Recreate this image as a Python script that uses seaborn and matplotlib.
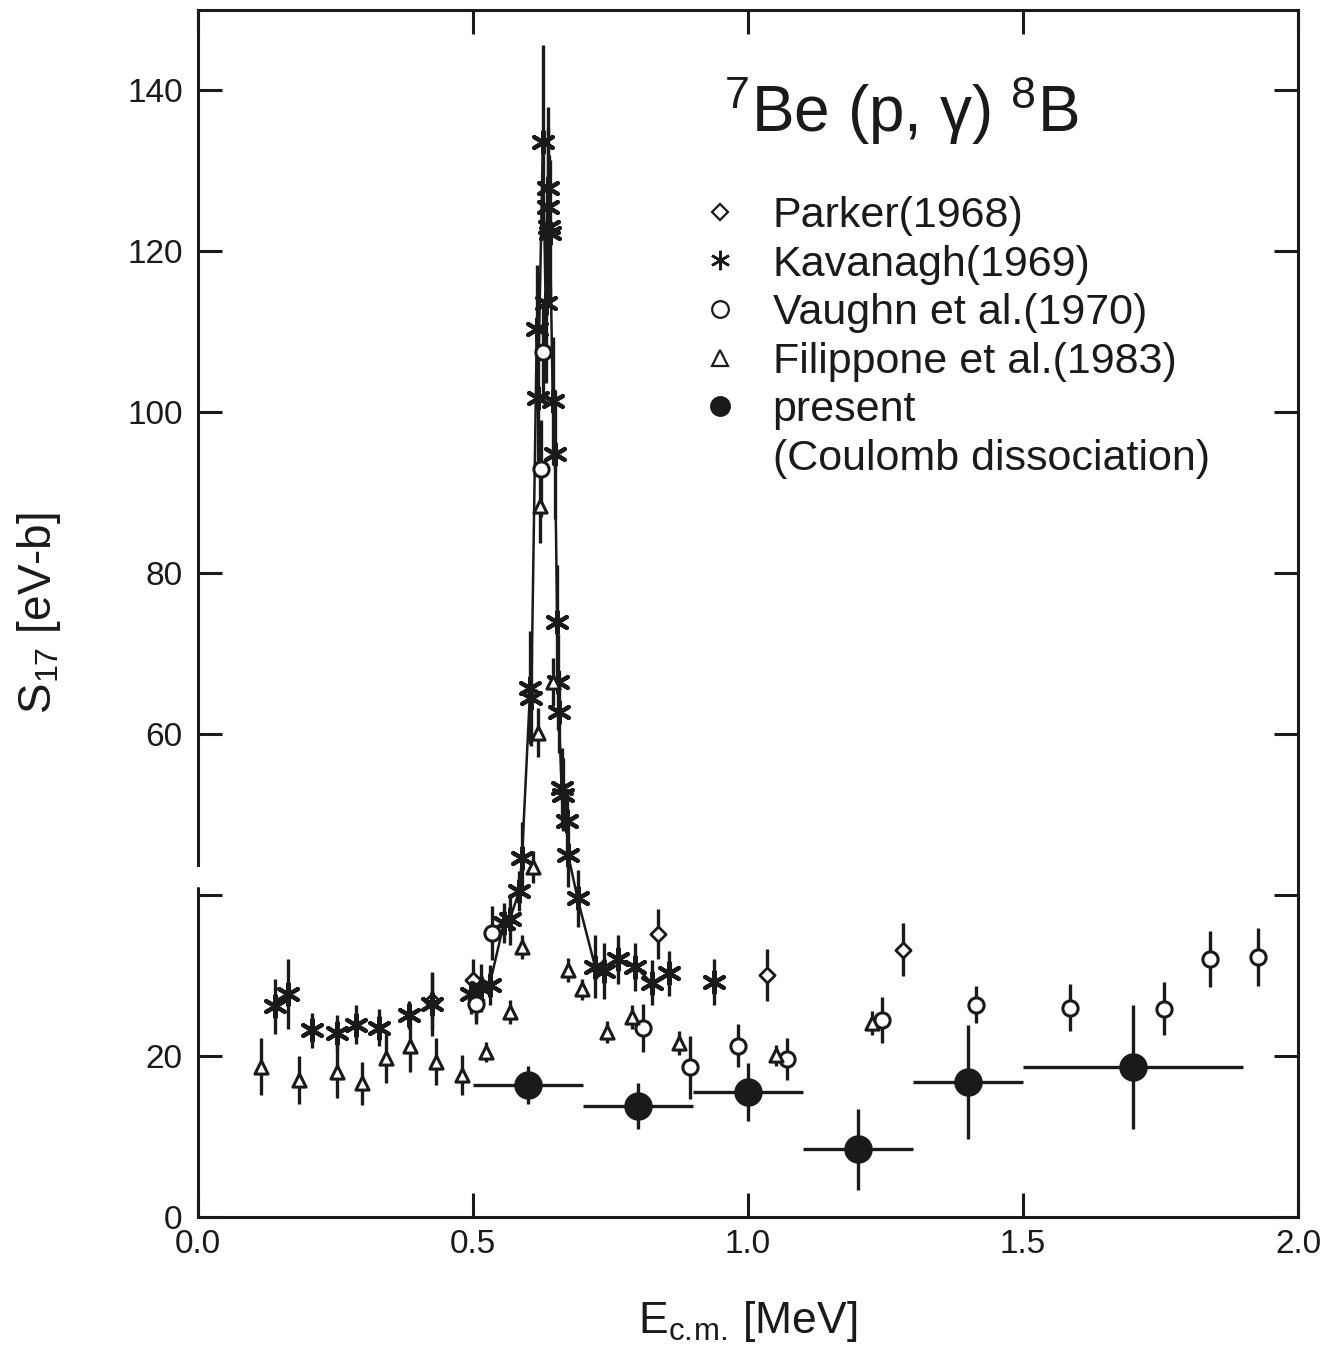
import numpy as np
import pandas as pd
import seaborn as sns
import matplotlib.pyplot as plt
from matplotlib.lines import Line2D

# Parker (1968) - open diamonds
parker_e = [0.425, 0.500, 0.505, 0.836, 1.035, 1.282]
parker_s = [26.8, 29.5, 27.0, 35.2, 30.1, 33.2]
parker_err = [3.5, 2.5, 2.5, 3.1, 3.2, 3.3]

# Kavanagh (1969) - asterisks
kav_e = [0.140, 0.164, 0.207, 0.253, 0.287, 0.329, 0.384, 0.425,
         0.496, 0.515, 0.530, 0.556, 0.567, 0.584, 0.589, 0.604, 0.606,
         0.616, 0.618, 0.627, 0.632, 0.636, 0.637, 0.638, 0.640, 0.645,
         0.649, 0.653, 0.655, 0.656, 0.661, 0.664, 0.670, 0.673, 0.690,
         0.722, 0.738, 0.764, 0.795, 0.825, 0.856, 0.938]
kav_s = [26.2, 27.7, 23.2, 22.9, 23.9, 23.5, 25.1, 26.5,
         27.7, 28.5, 28.8, 36.5, 37.0, 40.5, 44.6, 65.8, 64.5,
         110.3, 101.8, 133.6, 113.6, 127.9, 125.5, 123.0, 122.3, 101.4,
         94.8, 74.0, 66.5, 62.7, 53.3, 52.5, 49.2, 45.0, 39.6,
         31.1, 30.6, 32.0, 31.1, 29.1, 30.3, 29.2]
kav_err = [3.4, 4.4, 2.2, 2.2, 2.4, 2.3, 1.7, 4.0,
           2.5, 3.0, 2.5, 2.5, 3.2, 2.5, 4.5, 7.0, 6.0,
           8.0, 8.0, 12.0, 10.0, 10.0, 10.0, 9.0, 9.0, 8.0,
           8.0, 7.0, 6.0, 5.0, 5.0, 4.5, 4.0, 4.0, 3.5,
           3.9, 3.5, 3.1, 3.0, 2.8, 2.8, 2.8]

# Vaughn et al. (1970) - open circles
vau_e = [0.505, 0.535, 0.628, 0.624, 0.809, 0.894, 0.982, 1.071,
         1.244, 1.415, 1.585, 1.756, 1.840, 1.927]
vau_s = [26.5, 35.3, 107.5, 93.0, 23.5, 18.6, 21.3, 19.6,
         24.5, 26.4, 26.0, 25.9, 32.1, 32.3]
vau_err = [2.5, 3.4, 6.0, 6.0, 3.0, 3.9, 2.7, 2.6,
           2.9, 2.3, 2.9, 3.3, 3.5, 3.6]

# Filippone et al. (1983) - open triangles
fil_e = [0.115, 0.184, 0.253, 0.298, 0.342, 0.385, 0.433, 0.480, 0.524,
         0.567, 0.589, 0.609, 0.618, 0.622, 0.645, 0.673, 0.698, 0.744,
         0.789, 0.875, 1.050, 1.226]
fil_s = [18.7, 17.0, 18.0, 16.6, 19.7, 21.3, 19.3, 17.6, 20.5,
         25.5, 33.6, 43.5, 60.2, 88.3, 66.5, 30.7, 28.3, 23.0,
         24.9, 21.6, 20.1, 24.1]
fil_err = [3.5, 3.0, 3.2, 2.7, 3.0, 3.3, 2.9, 2.5, 1.3,
           1.5, 1.5, 2.0, 3.0, 4.5, 3.0, 1.5, 1.3, 1.4,
           1.5, 1.5, 1.3, 1.5]

# present (Coulomb dissociation) - filled circles with energy bins
pres_e = [0.6, 0.8, 1.0, 1.2, 1.4, 1.7]
pres_s = [16.4, 13.8, 15.5, 8.4, 16.8, 18.6]
pres_ebin = [0.1, 0.1, 0.1, 0.1, 0.1, 0.2]
pres_err = [2.4, 2.9, 3.6, 5.0, 7.1, 7.7]

sns.set_theme(style="ticks")
plt.rcParams['font.family'] = ['Liberation Sans', 'DejaVu Sans']
plt.rcParams['mathtext.fontset'] = 'custom'
plt.rcParams['mathtext.rm'] = 'Liberation Sans'
plt.rcParams['mathtext.it'] = 'Liberation Sans:italic'
plt.rcParams['text.color'] = 'k'
plt.rcParams['axes.labelcolor'] = 'k'

fig = plt.figure(figsize=(13.36, 13.54), dpi=100)
ax = fig.add_axes([0.1482, 0.1012, 0.8234, 0.8914])

ebw = 2.4
ax.errorbar(parker_e, parker_s, yerr=parker_err, fmt='none', ecolor='k', elinewidth=ebw, capsize=0)
ax.errorbar(kav_e, kav_s, yerr=kav_err, fmt='none', ecolor='k', elinewidth=ebw, capsize=0)
ax.errorbar(vau_e, vau_s, yerr=vau_err, fmt='none', ecolor='k', elinewidth=ebw, capsize=0)
ax.errorbar(fil_e, fil_s, yerr=fil_err, fmt='none', ecolor='k', elinewidth=ebw, capsize=0)
ax.errorbar(pres_e, pres_s, xerr=pres_ebin, yerr=pres_err, fmt='none', ecolor='k',
            elinewidth=ebw, capsize=0)

# curve through Kavanagh data across the resonance
res = pd.DataFrame({'e': kav_e, 's': kav_s})
res = res[(res.e > 0.49) & (res.e < 0.86)]
sns.lineplot(data=res, x='e', y='s', sort=False, estimator=None, color='k', lw=1.8, ax=ax)

sns.scatterplot(x=parker_e, y=parker_s, marker='D', s=60, color='white', edgecolor='k',
                linewidth=2.0, zorder=5, ax=ax)
sns.scatterplot(x=kav_e, y=kav_s, marker=(6, 2, 0), s=240, color='k', edgecolor='k',
                linewidth=3.0, zorder=5, ax=ax)
sns.scatterplot(x=vau_e, y=vau_s, marker='o', s=120, color='white', edgecolor='k',
                linewidth=2.2, zorder=5, ax=ax)
sns.scatterplot(x=fil_e, y=fil_s, marker='^', s=90, color='white', edgecolor='k',
                linewidth=2.2, zorder=5, ax=ax)
sns.scatterplot(x=pres_e, y=pres_s, marker='o', s=380, color='k', edgecolor='k',
                linewidth=1, zorder=6, ax=ax)

ax.set_xlim(0, 2.0)
ax.set_ylim(0, 150)
ax.set_xticks([0, 0.5, 1.0, 1.5, 2.0])
ax.set_xticklabels(['0.0', '0.5', '1.0', '1.5', '2.0'])
ax.set_yticks([0, 20, 40, 60, 80, 100, 120, 140])
ax.set_yticklabels(['0', '20', '', '60', '80', '100', '120', '140'])
ax.tick_params(axis='both', direction='in', top=True, right=True, length=17, width=2.2,
               labelsize=24, color='k', labelcolor='k')
ax.tick_params(axis='x', pad=9)
ax.tick_params(axis='y', pad=11)

for side in ['top', 'right', 'bottom', 'left']:
    ax.spines[side].set_linewidth(2.2)
    ax.spines[side].set_color('k')
# broken left axis just above 40
ax.spines['left'].set_bounds(43.8, 150)
ax.axvline(0, ymin=0, ymax=40.9 / 150, color='k', lw=2.2, clip_on=False)

ax.set_xlabel(r'E$_{\rm c.\!m.\!}$ [MeV]', fontsize=32, labelpad=28)
ax.set_ylabel(r'S$_{17}$ [eV-b]', fontsize=33, labelpad=46)

ax.text(0.478, 0.899, r'$^{7}$Be (p, γ) $^{8}$B', transform=ax.transAxes, fontsize=46,
        ha='left', va='baseline')

handles = [
    Line2D([], [], ls='none', marker='D', ms=8, mfc='white', mec='k', mew=1.6),
    Line2D([], [], ls='none', marker=(6, 2, 0), ms=14, mec='k', mew=1.8),
    Line2D([], [], ls='none', marker='o', ms=12, mfc='white', mec='k', mew=1.6),
    Line2D([], [], ls='none', marker='^', ms=11, mfc='white', mec='k', mew=1.6),
    Line2D([], [], ls='none', marker='o', ms=14, mfc='k', mec='k'),
    Line2D([], [], ls='none'),
]
labels = ['Parker(1968)', 'Kavanagh(1969)', 'Vaughn et al.(1970)',
          'Filippone et al.(1983)', 'present', '(Coulomb dissociation)']
ax.legend(handles, labels, loc='upper left', bbox_to_anchor=(0.455, 0.846), frameon=False,
          fontsize=31, handlelength=1.0, handletextpad=0.72, labelspacing=0.2,
          borderpad=0, borderaxespad=0)

plt.savefig('out.png', dpi=100)
